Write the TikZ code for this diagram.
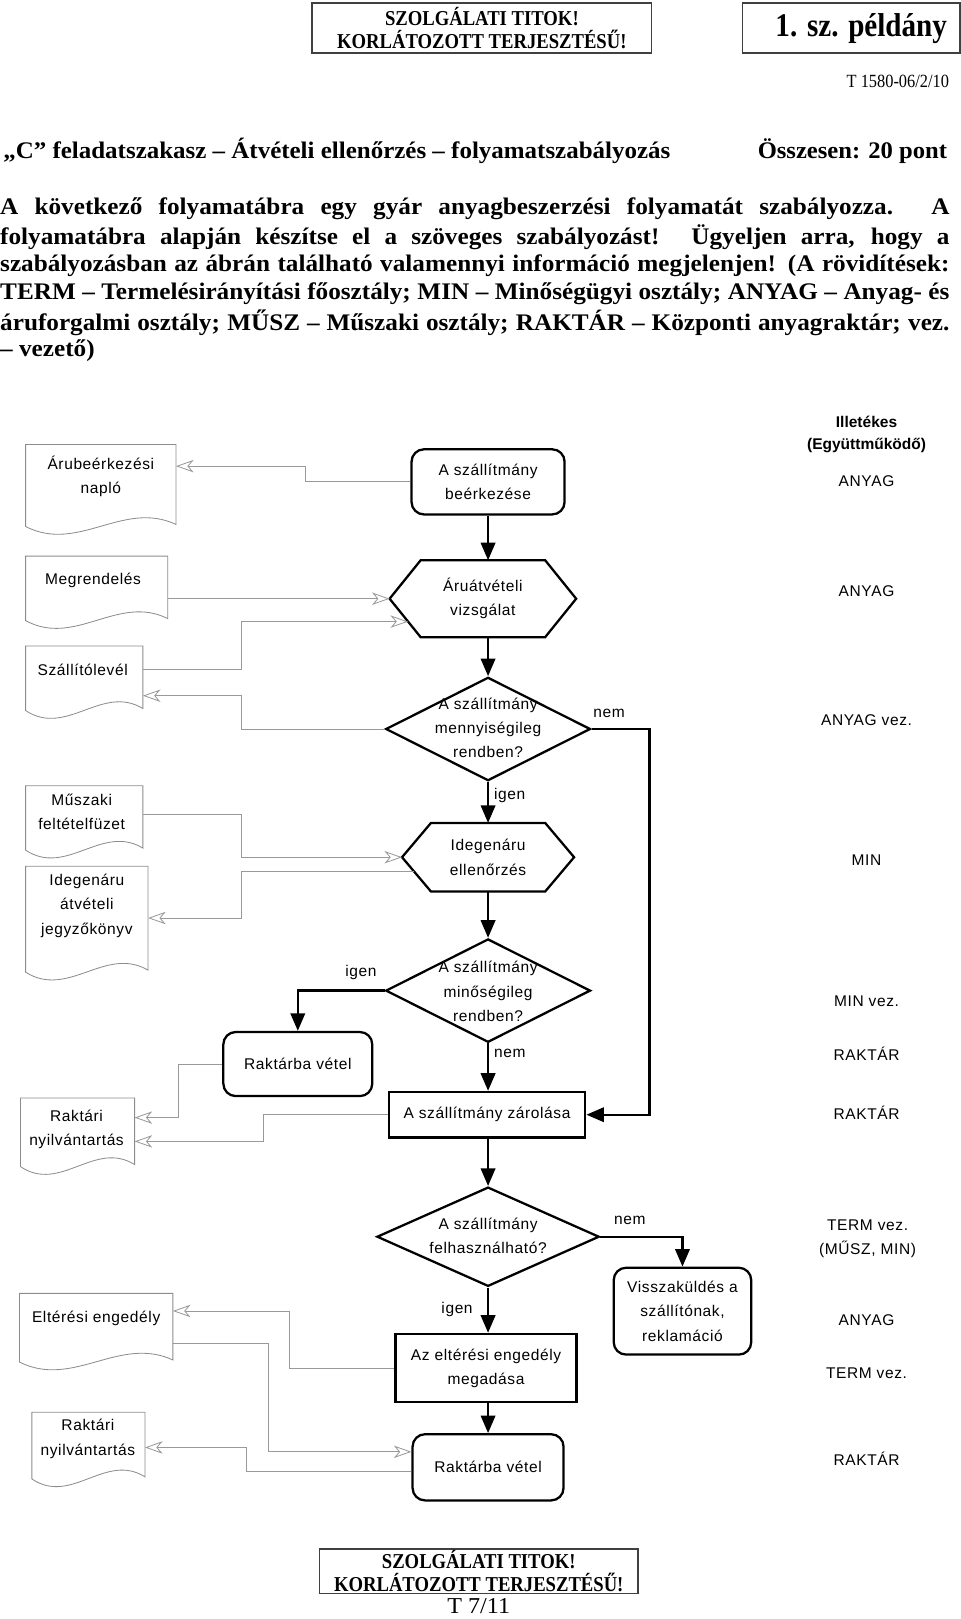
\documentclass[tikz,border=0pt]{standalone}
\usepackage{fontspec}
\usepackage{graphicx}
\setmainfont{Liberation Serif}
\setsansfont{Liberation Sans}
\newfontfamily\cserif{Liberation Serif}[FakeStretch=0.88]
\newfontfamily\pserif{Liberation Serif}[FakeStretch=1.06]
\newfontfamily\dsans{Liberation Sans}[LetterSpace=4]
\newfontfamily\bsans{Liberation Sans}
\usetikzlibrary{arrows.meta,shapes.geometric,calc}
\newcommand\jline[1]{\sbox0{#1}\ifdim\wd0>918pt\resizebox{918pt}{\height}{#1}\else\makebox[918pt][s]{#1}\fi}
\newcommand\fitw[2]{\resizebox{#1}{\height}{#2}}
\newcommand\docpath[1]{%
  \draw[docline] (#1.south west) -- (#1.north west) -- (#1.north east) -- ([yshift=2pt]#1.south east)
    .. controls ($(#1.south west)!0.65!(#1.south east)+(0,-26)$) and ($(#1.south west)!0.35!(#1.south east)+(0,26)$) .. (#1.south west) -- cycle;}
\tikzset{
  every node/.style={inner sep=0pt},
  dtext/.style={font=\dsans\fontsize{15}{23.5}\selectfont, align=center},
  procbox/.style={dtext, draw, line width=2.2pt, rounded corners=12pt},
  rectbox/.style={dtext, draw, line width=2.2pt},
  decision/.style={diamond, draw, line width=2.2pt},
  hexnode/.style={dtext},
  docline/.style={draw=black!45, line width=0.8pt},
  garrow/.style={draw=black!40, line width=0.8pt, -{Stealth[open, length=17pt, width=12pt, inset=5pt]}},
  barrow/.style={draw=black, line width=2.2pt, -{Triangle[length=17pt, width=14pt]}},
  bline/.style={draw=black, line width=2.2pt},
  lbl/.style={dtext},
  rcol/.style={dtext},
  rhead/.style={font=\bsans\bfseries\fontsize{15}{21}\selectfont, align=center},
  hdrbox/.style={draw=black!75, line width=1.8pt, align=center, font=\cserif\bfseries\fontsize{20.5}{22}\selectfont},
  para/.style={anchor=west, font=\pserif\bfseries\fontsize{23}{26}\selectfont},
}
\begin{document}
\begin{tikzpicture}[x=1pt, y=-1pt]
\useasboundingbox (0,0) rectangle (928.5,1565.7);
% header
\node[hdrbox, minimum width=328pt, minimum height=48pt] (hdrA) at (466,27) {SZOLGÁLATI TITOK!\\KORLÁTOZOTT TERJESZTÉSŰ!};
\node[hdrbox, minimum width=210pt, minimum height=48pt] (hdrB) at (823,27) {};
\node[anchor=east, font=\cserif\bfseries\fontsize{32}{34}\selectfont] (pld) at (916,28) {1. sz. példány};
\node[anchor=east, font=\cserif\fontsize{18}{20}\selectfont] (tnum) at (918,79) {T 1580-06/2/10};
\node[anchor=west, font=\pserif\bfseries\fontsize{23}{26}\selectfont] (title) at (3,146) {\fitw{645pt}{„C” feladatszakasz – Átvételi ellenőrzés – folyamatszabályozás}};
\node[anchor=east, font=\pserif\bfseries\fontsize{23}{26}\selectfont] (pont) at (916,146) {\fitw{183pt}{Összesen: 20 pont}};
\node[para] (p1) at (0,202) {\jline{A következő folyamatábra egy gyár anyagbeszerzési folyamatát szabályozza. A}};
\node[para] (p2) at (0,229.5) {\jline{folyamatábra alapján készítse el a szöveges szabályozást! Ügyeljen arra, hogy a}};
\node[para] (p3) at (0,257) {\jline{szabályozásban az ábrán található valamennyi információ megjelenjen! (A rövidítések:}};
\node[para] (p4) at (0,284.5) {\jline{TERM – Termelésirányítási főosztály; MIN – Minőségügyi osztály; ANYAG – Anyag- és}};
\node[para] (p5) at (0,312) {\jline{áruforgalmi osztály; MŰSZ – Műszaki osztály; RAKTÁR – Központi anyagraktár; vez.}};
\node[para] (p6) at (0,339.5) {– vezető)};
% right column
\node[rhead] (ill) at (838,420) {Illetékes\\(Együttműködő)};
\node[rcol] (c1) at (838,465) {ANYAG};
\node[rcol] (c2) at (838,572) {ANYAG};
\node[rcol] (c3) at (838,696) {ANYAG vez.};
\node[rcol] (c4) at (838,832) {MIN};
\node[rcol] (c5) at (838,968) {MIN vez.};
\node[rcol] (c6) at (838,1019) {RAKTÁR};
\node[rcol] (c7) at (838,1076) {RAKTÁR};
\node[rcol] (c8) at (839,1198) {TERM vez.\\(MŰSZ, MIN)};
\node[rcol] (c9) at (838,1277) {ANYAG};
\node[rcol] (c10) at (838,1328) {TERM vez.};
\node[rcol] (c11) at (838,1411) {RAKTÁR};
% main flow
\node[procbox, minimum width=148pt, minimum height=63pt] (b1) at (472,466) {A szállítmány\\beérkezése};
\node[hexnode, minimum width=180pt, minimum height=74pt] (h1) at (467,579) {Áruátvételi\\vizsgálat};
\draw[bline] ([xshift=30pt]h1.north west) -- ([xshift=-30pt]h1.north east) -- (h1.east) -- ([xshift=-30pt]h1.south east) -- ([xshift=30pt]h1.south west) -- (h1.west) -- cycle;
\node[decision, minimum width=198pt, minimum height=100pt] (d1) at (472,705) {};
\node[dtext] (d1t) at (472,704) {A szállítmány\\mennyiségileg\\rendben?};
\node[hexnode, minimum width=166pt, minimum height=66pt] (h2) at (472,829) {Idegenáru\\ellenőrzés};
\draw[bline] ([xshift=28pt]h2.north west) -- ([xshift=-28pt]h2.north east) -- (h2.east) -- ([xshift=-28pt]h2.south east) -- ([xshift=28pt]h2.south west) -- (h2.west) -- cycle;
\node[decision, minimum width=198pt, minimum height=100pt] (d2) at (472,958) {};
\node[dtext] (d2t) at (472,959) {A szállítmány\\minőségileg\\rendben?};
\node[procbox, minimum width=144pt, minimum height=62pt] (r1) at (288,1029) {Raktárba vétel};
\node[rectbox, minimum width=190pt, minimum height=44pt] (z) at (471,1078) {A szállítmány zárolása};
\node[decision, minimum width=215pt, minimum height=96pt] (d3) at (472,1196) {};
\node[dtext] (d3t) at (472,1195) {A szállítmány\\felhasználható?};
\node[procbox, minimum width=133pt, minimum height=84pt] (v) at (660,1268) {Visszaküldés a\\szállítónak,\\reklamáció};
\node[rectbox, minimum width=175pt, minimum height=66pt] (e) at (470,1323) {Az eltérési engedély\\megadása};
\node[procbox, minimum width=146pt, minimum height=64pt] (r2) at (472,1419) {Raktárba vétel};
% main arrows
\draw[barrow] (b1.south) -- (b1.south |- h1.north);
\draw[barrow] (d1.north |- h1.south) -- (d1.north);
\draw[barrow] (d1.south) -- (h2.north);
\draw[barrow] (h2.south) -- (d2.north);
\draw[barrow] (d2.south) -- (d2.south |- z.north);
\draw[barrow] (d2.west) -| (r1.north);
\draw[barrow] (d1.east) -- ++(56,0) |- (z.east);
\draw[barrow] (d3.north |- z.south) -- (d3.north);
\draw[barrow] (d3.east) -| (v.north);
\draw[barrow] (d3.south) -- (d3.south |- e.north);
\draw[barrow] (r2.north |- e.south) -- (r2.north);
% labels
\node[lbl] (l1) at (589,690) {nem};
\node[lbl] (l2) at (493,769) {igen};
\node[lbl] (l3) at (349,940) {igen};
\node[lbl] (l4) at (493,1019) {nem};
\node[lbl] (l5) at (609,1180) {nem};
\node[lbl] (l6) at (442,1266) {igen};
% documents
\node[minimum width=145pt, minimum height=79pt] (doc1) at (97.5,469.5) {};
\docpath{doc1}
\node[dtext] (doc1t) at (97.5,460.5) {Árubeérkezési\\napló};
\node[minimum width=137pt, minimum height=62pt] (doc2) at (93.5,569) {};
\docpath{doc2}
\node[dtext] (doc2t) at (90,561) {Megrendelés};
\node[minimum width=113pt, minimum height=62pt] (doc3) at (81.5,656) {};
\docpath{doc3}
\node[dtext] (doc3t) at (80,648) {Szállítólevél};
\node[minimum width=113pt, minimum height=62pt] (doc4) at (81.5,791) {};
\docpath{doc4}
\node[dtext] (doc4t) at (79,785) {Műszaki\\feltételfüzet};
\node[minimum width=118pt, minimum height=102pt] (doc5) at (84,889) {};
\docpath{doc5}
\node[dtext] (doc5t) at (84,876) {Idegenáru\\átvételi\\jegyzőkönyv};
\node[minimum width=110pt, minimum height=66pt] (doc6) at (75,1095) {};
\docpath{doc6}
\node[dtext] (doc6t) at (74,1092.5) {Raktári\\nyilvántartás};
\node[minimum width=148pt, minimum height=66pt] (doc7) at (93,1284) {};
\docpath{doc7}
\node[dtext] (doc7t) at (93,1275) {Eltérési engedély};
\node[minimum width=109pt, minimum height=64pt] (doc8) at (85.5,1398) {};
\docpath{doc8}
\node[dtext] (doc8t) at (85,1391.5) {Raktári\\nyilvántartás};
% guide coordinates
\coordinate (vx0) at (295,0);
\coordinate (vx1) at (233,0);
\coordinate (vx2) at (173,0);
\coordinate (vx3) at (255,0);
\coordinate (vx4) at (280,0);
\coordinate (vx5) at (260,0);
\coordinate (vx6) at (238,0);
\coordinate (h1e) at ($(h1.west)!0.595!([xshift=30pt]h1.south west)$);
\coordinate (h2e) at ($(h2.west)!0.42!([xshift=28pt]h2.south west)$);
\coordinate (r2in) at ($(r2.west)+(0,-15)$);
\coordinate (r2out) at ($(r2.west)+(0,4)$);
% document connectors
\draw[garrow] (b1.west) -- (b1.west -| vx0) |- ($(doc1.north east)+(0,21)$);
\draw[garrow] (doc2.east |- h1.west) -- (h1.west);
\draw[garrow] ($(doc3.north east)+(0,23)$) -| (vx1 |- h1e) -- (h1e);
\draw[garrow] (d1.west) -- (d1.west -| vx1) |- ($(doc3.north east)+(0,48)$);
\draw[garrow] ($(doc4.north east)+(0,28)$) -| (vx1 |- h2.west) -- (h2.west);
\draw[garrow] (h2e) -- (h2e -| vx1) |- ($(doc5.north east)+(0,50)$);
\draw[garrow] (r1.west) -- (r1.west -| vx2) |- ($(doc6.north east)+(0,19)$);
\draw[garrow] (z.west) -- (z.west -| vx3) |- ($(doc6.north east)+(0,42)$);
\draw[garrow] (e.west) -- (e.west -| vx4) |- ($(doc7.north east)+(0,17)$);
\draw[garrow] ($(doc7.north east)+(0,48)$) -| (vx5 |- r2in) -- (r2in);
\draw[garrow] (r2out) -- (r2out -| vx6) |- ($(doc8.north east)+(0,34)$);
% footer
\node[hdrbox, minimum width=308pt, minimum height=43pt] (ftr) at (463,1519.5) {SZOLGÁLATI TITOK!\\KORLÁTOZOTT TERJESZTÉSŰ!};
\node[font=\pserif\fontsize{22}{24}\selectfont] (pg) at (463,1553) {T 7/11};
\end{tikzpicture}
\end{document}
